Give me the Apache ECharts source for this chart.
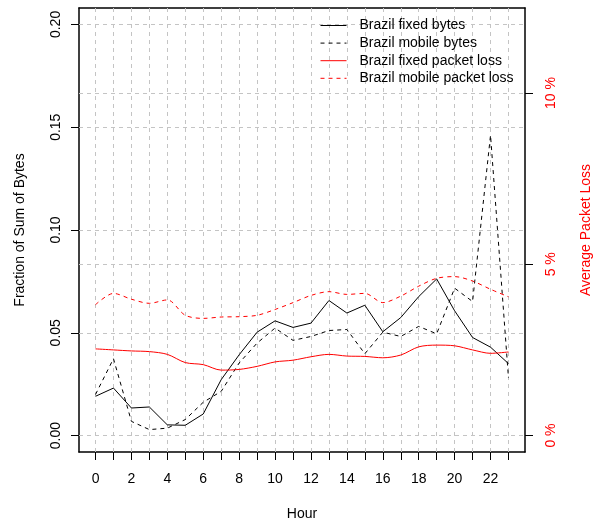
<!DOCTYPE html>
<html>
<head>
    <meta charset="utf-8">
    <title>Brazil bytes and packet loss by hour</title>
    <script src="https://cdn.jsdelivr.net/npm/echarts@6/dist/echarts.min.js"></script>
    <style>
        body { margin: 0; background: #fff; }
    </style>
</head>
<body>
    <div id="main" style="width: 600px;height:525px;"></div>
    <script type="text/javascript">
        // hours 0..23
        var hours = [0, 1, 2, 3, 4, 5, 6, 7, 8, 9, 10, 11, 12, 13, 14, 15, 16, 17, 18, 19, 20, 21, 22, 23];
        var hourLabels = [0, 2, 4, 6, 8, 10, 12, 14, 16, 18, 20, 22];
        var bytesTicks = [0, 0.05, 0.10, 0.15, 0.20];
        var lossTicks = [0, 5, 10];

        // fraction of sum of bytes
        var fixedBytes = [0.0191, 0.0231, 0.0134, 0.0139, 0.0052, 0.0050, 0.0105, 0.0272, 0.0393, 0.0503, 0.0558, 0.0526,
                          0.0547, 0.0657, 0.0596, 0.0634, 0.0505, 0.0574, 0.0676, 0.0762, 0.0607, 0.0477, 0.0430, 0.0350];
        var mobileBytes = [0.0200, 0.0374, 0.0069, 0.0029, 0.0036, 0.0078, 0.0162, 0.0215, 0.0353, 0.0450, 0.0523, 0.0463,
                           0.0482, 0.0511, 0.0516, 0.0398, 0.0503, 0.0482, 0.0531, 0.0495, 0.0717, 0.0652, 0.1461, 0.0280];
        // average packet loss, percent
        var fixedLoss = [2.53, 2.50, 2.47, 2.45, 2.37, 2.13, 2.07, 1.91, 1.93, 2.02, 2.15, 2.20,
                         2.30, 2.37, 2.32, 2.31, 2.27, 2.35, 2.59, 2.64, 2.62, 2.50, 2.40, 2.44];
        var mobileLoss = [3.82, 4.15, 3.98, 3.86, 3.96, 3.51, 3.42, 3.46, 3.47, 3.51, 3.68, 3.88,
                          4.09, 4.20, 4.12, 4.15, 3.88, 4.07, 4.36, 4.59, 4.64, 4.51, 4.27, 4.05];

        var FONT = "'Liberation Sans', Arial, Helvetica, sans-serif";
        var gridColor = '#c4c4c4';

        function pairs(ys) {
            return hours.map(function (h, i) { return [h, ys[i]]; });
        }

        var gridLine = { color: gridColor, width: 1, type: [4, 4] };

        var myChart = echarts.init(document.getElementById('main'));

        var option = {
            animation: false,
            backgroundColor: '#fff',
            textStyle: { fontFamily: FONT },
            grid: { left: 79, right: 75, top: 8, bottom: 73, containLabel: false, outerBoundsMode: 'none' },
            legend: {
                orient: 'vertical',
                left: 320,
                top: 18.5,
                padding: 0,
                itemWidth: 26,
                itemHeight: 14,
                itemGap: 3.6,
                itemStyle: { opacity: 0 },
                lineStyle: { width: 1 },
                textStyle: { fontSize: 14, color: '#000', fontFamily: FONT, lineHeight: 14, padding: [0, 0, 0, 8] },
                data: ['Brazil fixed bytes', 'Brazil mobile bytes', 'Brazil fixed packet loss', 'Brazil mobile packet loss']
            },
            xAxis: [{
                type: 'value',
                min: -0.92,
                max: 23.92,
                position: 'bottom',
                name: 'Hour',
                nameLocation: 'middle',
                nameGap: 55,
                nameTextStyle: { fontSize: 14, color: '#000', fontFamily: FONT },
                axisLine: { show: true, onZero: false, lineStyle: { color: '#000', width: 1.5 } },
                axisTick: { show: true, length: 8, lineStyle: { color: '#000' }, customValues: hours },
                axisLabel: { show: true, fontSize: 14, color: '#000', margin: 20, customValues: hourLabels },
                splitLine: { show: false }
            }, {
                type: 'value',
                min: -0.92,
                max: 23.92,
                position: 'top',
                axisLine: { show: true, onZero: false, lineStyle: { color: '#000', width: 1.5 } },
                axisTick: { show: false },
                axisLabel: { show: false },
                splitLine: { show: false }
            }],
            yAxis: [{
                type: 'value',
                min: -0.008,
                max: 0.208,
                position: 'left',
                name: 'Fraction of Sum of Bytes',
                nameLocation: 'middle',
                nameRotate: 90,
                nameGap: 52,
                nameTextStyle: { fontSize: 14, color: '#000', fontFamily: FONT },
                axisLine: { show: true, onZero: false, lineStyle: { color: '#000', width: 1.5 } },
                axisTick: { show: true, length: 8, lineStyle: { color: '#000' }, customValues: bytesTicks },
                axisLabel: {
                    show: true, fontSize: 14, color: '#000', rotate: 90, margin: 16,
                    customValues: bytesTicks,
                    formatter: function (v) { return v.toFixed(2); }
                },
                splitLine: { show: false }
            }, {
                type: 'value',
                min: -0.48,
                max: 12.48,
                position: 'right',
                name: 'Average Packet Loss',
                nameLocation: 'middle',
                nameRotate: 90,
                nameGap: 54,
                nameTextStyle: { fontSize: 14, color: '#ff0000', fontFamily: FONT },
                axisLine: { show: true, onZero: false, lineStyle: { color: '#000', width: 1.5 } },
                axisTick: { show: true, length: 8, lineStyle: { color: '#000' }, customValues: lossTicks },
                axisLabel: {
                    show: true, fontSize: 14, color: '#ff0000', rotate: 90, margin: 19,
                    customValues: lossTicks,
                    formatter: function (v) { return v + ' %'; }
                },
                splitLine: { show: false }
            }],
            series: [{
                name: 'Brazil fixed bytes',
                type: 'line',
                yAxisIndex: 0,
                z: 3,
                symbol: 'none',
                data: pairs(fixedBytes),
                lineStyle: { color: '#000', width: 1 },
                itemStyle: { color: '#000' },
                markLine: {
                    silent: true, symbol: 'none', z: 1, animation: false,
                    label: { show: false },
                    lineStyle: gridLine,
                    data: hours.map(function (h) { return { xAxis: h }; })
                        .concat(bytesTicks.map(function (t) { return { yAxis: t }; }))
                }
            }, {
                name: 'Brazil mobile bytes',
                type: 'line',
                yAxisIndex: 0,
                z: 3,
                symbol: 'none',
                data: pairs(mobileBytes),
                lineStyle: { color: '#000', width: 1, type: [4, 4] },
                itemStyle: { color: '#000' }
            }, {
                name: 'Brazil fixed packet loss',
                type: 'line',
                yAxisIndex: 1,
                z: 3,
                symbol: 'none',
                smooth: 0.3,
                data: pairs(fixedLoss),
                lineStyle: { color: '#ff0000', width: 1 },
                itemStyle: { color: '#ff0000' },
                markLine: {
                    silent: true, symbol: 'none', z: 1, animation: false,
                    label: { show: false },
                    lineStyle: gridLine,
                    data: lossTicks.map(function (t) { return { yAxis: t }; })
                }
            }, {
                name: 'Brazil mobile packet loss',
                type: 'line',
                yAxisIndex: 1,
                z: 3,
                symbol: 'none',
                smooth: 0.3,
                data: pairs(mobileLoss),
                lineStyle: { color: '#ff0000', width: 1, type: [4, 4] },
                itemStyle: { color: '#ff0000' }
            }]
        };

        myChart.setOption(option);
    </script>
</body>
</html>
